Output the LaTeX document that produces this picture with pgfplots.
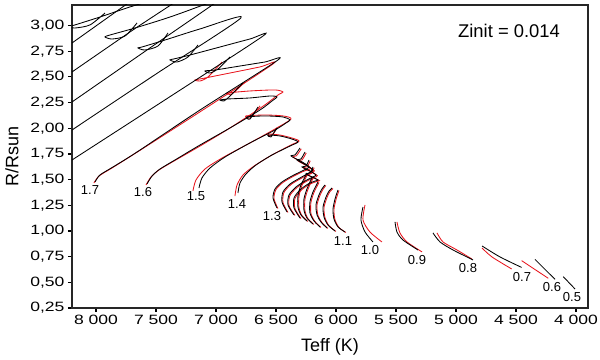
\documentclass[border=0pt]{standalone}
\usepackage{pgfplots}
\pgfplotsset{compat=1.18}
\usepackage{fontspec}
\setmainfont{Liberation Sans}
\newfontfamily\tickfont[FakeStretch=1.3]{Liberation Sans}

\definecolor{trkred}{HTML}{E8141C}
\pgfplotsset{
  blk/.style={black, line width=0.85pt, smooth, tension=0.45},
  rd/.style={trkred, line width=0.85pt, smooth, tension=0.45},
}

\begin{document}
\begin{tikzpicture}
\begin{axis}[
  scale only axis,
  width=516pt, height=303pt,
  xmin=3900, xmax=8200, ymin=0.25, ymax=3.2,
  x dir=reverse,
  axis line style={line width=1.5pt, black!85},
  xtick={4000,4500,5000,5500,6000,6500,7000,7500,8000},
  ytick={0.25,0.5,0.75,1,1.25,1.5,1.75,2,2.25,2.5,2.75,3},
  xtick pos=bottom, ytick pos=left,
  tick align=outside, major tick length=4pt,
  tick style={line width=1.2pt, black},
  /pgf/number format/assume math mode=true,
  tick label style={font=\tickfont\fontsize{13.5}{15}\selectfont},
  xticklabel style={/pgf/number format/1000 sep={\ }},
  yticklabel style={/pgf/number format/.cd, fixed, fixed zerofill, precision=2, use comma},
  xlabel={Teff (K)}, ylabel={R/Rsun},
  label style={font=\fontsize{18}{20}\selectfont},
  xlabel style={at={(axis description cs:0.5,-0.1287)}, anchor=center},
  ylabel style={at={(axis description cs:-0.1163,0.5)}, anchor=center},
]
% ---- red tracks (drawn first) ----
\addplot[rd] coordinates {(8017,1.467) (7975,1.535) (7867,1.613) (7667,1.760) (7133,2.160) (6525,2.626) (6633,2.597) (6883,2.538) (7092,2.489) (7175,2.470) (7133,2.460) (7067,2.499) (6950,2.645)};
\addplot[rd] coordinates {(7583,1.448) (7542,1.525) (7475,1.594) (7350,1.681) (7133,1.827) (6883,2.003) (6617,2.207) (6483,2.324) (6442,2.353) (6508,2.373) (6717,2.363) (6908,2.343) (6867,2.334) (6758,2.451)};
\addplot[rd] coordinates {(7192,1.390) (7167,1.496) (7092,1.603) (6950,1.710) (6717,1.857) (6508,1.993) (6375,2.090) (6442,2.120) (6592,2.129) (6750,2.120) (6717,2.100) (6633,2.217)};
\addplot[rd] coordinates {(6842,1.340) (6825,1.447) (6775,1.545) (6683,1.632) (6533,1.740) (6375,1.837) (6308,1.876) (6367,1.905) (6467,1.934) (6567,1.944) (6542,1.925) (6483,2.012)};
\addplot[rd] coordinates {(6484,1.219) (6517,1.316) (6500,1.404) (6442,1.472) (6359,1.530) (6275,1.579) (6212,1.610) (6270,1.660) (6360,1.720) (6330,1.732) (6290,1.800)};
\addplot[rd] coordinates {(6400,1.180) (6442,1.277) (6434,1.374) (6375,1.452) (6292,1.511) (6215,1.558) (6180,1.585) (6240,1.632) (6315,1.682) (6282,1.693) (6248,1.760)};
\addplot[rd] coordinates {(6342,1.151) (6392,1.248) (6384,1.345) (6325,1.423) (6250,1.481) (6182,1.520) (6155,1.538) (6207,1.576) (6273,1.615) (6240,1.625) (6215,1.683)};
\addplot[rd] coordinates {(6292,1.121) (6342,1.219) (6342,1.316) (6292,1.394) (6225,1.452) (6165,1.480) (6138,1.490) (6190,1.519) (6240,1.548) (6207,1.558) (6182,1.615)};
\addplot[rd] coordinates {(6234,1.092) (6284,1.151) (6309,1.228) (6309,1.335) (6284,1.443) (6250,1.521) (6234,1.560)};
\addplot[rd] coordinates {(6184,1.063) (6234,1.121) (6259,1.199) (6259,1.306) (6234,1.404) (6209,1.472) (6192,1.511)};
\addplot[rd] coordinates {(6125,1.034) (6175,1.092) (6209,1.170) (6209,1.277) (6184,1.374) (6159,1.433) (6142,1.472)};
\addplot[rd] coordinates {(6067,1.024) (6117,1.082) (6150,1.151) (6159,1.248) (6134,1.345) (6109,1.404) (6084,1.443)};
\addplot[rd] coordinates {(6000,0.995) (6059,1.053) (6092,1.131) (6100,1.228) (6075,1.326) (6050,1.384) (6025,1.413)};
\addplot[rd] coordinates {(5917,0.985) (5975,1.034) (6009,1.112) (6017,1.209) (6000,1.306) (5984,1.365) (5975,1.394)};
\addplot[rd] coordinates {(5617,0.893) (5717,0.990) (5775,1.107) (5758,1.253)};
\addplot[rd] coordinates {(5492,1.088) (5467,0.981) (5408,0.893) (5283,0.796)};
\addplot[rd] coordinates {(5158,0.981) (5108,0.893) (4992,0.815) (4867,0.727)};
\addplot[rd] coordinates {(4783,0.834) (4700,0.747) (4536,0.630)};
\addplot[rd] coordinates {(4453,0.711) (4231,0.539)};
% ---- black tracks ----
\addplot[blk] coordinates {(8200,2.830) (7550,3.370)};
\addplot[blk] coordinates {(8200,2.548) (7692,2.957) (7175,3.366) (7467,3.268) (7717,3.181) (7967,3.083) (8175,3.006) (8233,2.986) (8175,2.976) (8050,3.006) (7925,3.122)};
\addplot[blk] coordinates {(8200,2.256) (7575,2.762) (6950,3.268) (7083,3.210) (7383,3.083) (7675,2.976) (7883,2.908) (7925,2.889) (7867,2.869) (7758,2.898) (7658,3.025)};
\addplot[blk] coordinates {(8200,1.983) (7500,2.528) (6792,3.074) (7133,2.967) (7425,2.859) (7617,2.791) (7650,2.782) (7592,2.762) (7483,2.801) (7400,2.928)};
\addplot[blk] coordinates {(8200,1.691) (7400,2.295) (6608,2.898) (6717,2.869) (6967,2.791) (7217,2.713) (7350,2.675) (7383,2.665) (7325,2.645) (7233,2.694) (7150,2.811)};
\addplot[blk] coordinates {(8008,1.477) (7967,1.545) (7858,1.623) (7658,1.769) (7133,2.178) (6483,2.665) (6592,2.645) (6800,2.606) (7008,2.567) (7092,2.558) (7050,2.538) (6983,2.577) (6883,2.694)};
\addplot[blk] coordinates {(7575,1.457) (7533,1.535) (7467,1.603) (7342,1.691) (7133,1.837) (6883,2.003) (6633,2.178) (6533,2.266) (6492,2.305) (6550,2.314) (6717,2.295) (6900,2.285) (6967,2.275) (6933,2.266) (6883,2.314) (6775,2.441)};
\addplot[blk] coordinates {(7142,1.418) (7117,1.516) (7050,1.613) (6925,1.720) (6717,1.857) (6508,1.983) (6417,2.051) (6383,2.081) (6442,2.110) (6592,2.120) (6742,2.110) (6717,2.090) (6650,2.207)};
\addplot[blk] coordinates {(6817,1.370) (6800,1.467) (6750,1.555) (6667,1.642) (6533,1.740) (6383,1.827) (6317,1.866) (6367,1.895) (6467,1.925) (6567,1.934) (6542,1.915) (6492,2.003)};
\addplot[blk] coordinates {(6492,1.224) (6525,1.321) (6508,1.409) (6450,1.477) (6367,1.535) (6283,1.584) (6225,1.623) (6283,1.672) (6375,1.730) (6342,1.740) (6300,1.808)};
\addplot[blk] coordinates {(6408,1.185) (6450,1.282) (6442,1.379) (6383,1.457) (6300,1.516) (6225,1.565) (6192,1.594) (6250,1.642) (6325,1.691) (6292,1.701) (6258,1.769)};
\addplot[blk] coordinates {(6350,1.156) (6400,1.253) (6392,1.350) (6333,1.428) (6258,1.486) (6192,1.526) (6167,1.545) (6217,1.584) (6283,1.623) (6250,1.632) (6225,1.691)};
\addplot[blk] coordinates {(6300,1.126) (6350,1.224) (6350,1.321) (6300,1.399) (6233,1.457) (6175,1.486) (6150,1.496) (6200,1.526) (6250,1.555) (6217,1.565) (6192,1.623)};
\addplot[blk] coordinates {(6242,1.097) (6292,1.156) (6317,1.233) (6317,1.340) (6292,1.448) (6258,1.526) (6242,1.565)};
\addplot[blk] coordinates {(6192,1.068) (6242,1.126) (6267,1.204) (6267,1.311) (6242,1.409) (6217,1.477) (6200,1.516)};
\addplot[blk] coordinates {(6133,1.039) (6183,1.097) (6217,1.175) (6217,1.282) (6192,1.379) (6167,1.438) (6150,1.477)};
\addplot[blk] coordinates {(6075,1.029) (6125,1.087) (6158,1.156) (6167,1.253) (6142,1.350) (6117,1.409) (6092,1.448)};
\addplot[blk] coordinates {(6008,1.000) (6067,1.058) (6100,1.136) (6108,1.233) (6083,1.331) (6058,1.389) (6033,1.418)};
\addplot[blk] coordinates {(5925,0.990) (5983,1.039) (6017,1.117) (6025,1.214) (6008,1.311) (5992,1.370) (5983,1.399)};
\addplot[blk] coordinates {(5692,0.893) (5758,0.990) (5792,1.107) (5775,1.233)};
\addplot[blk] coordinates {(5508,1.088) (5492,0.990) (5442,0.912) (5317,0.815)};
\addplot[blk] coordinates {(5192,0.981) (5133,0.893) (5025,0.815) (4858,0.718)};
\addplot[blk] coordinates {(4783,0.854) (4633,0.747) (4453,0.645)};
\addplot[blk] coordinates {(4342,0.724) (4175,0.529)};
\addplot[blk] coordinates {(4106,0.555) (4008,0.435)};
% ---- mass labels ----
\begin{scope}[every node/.style={font=\fontsize{13}{14}\selectfont, inner sep=0pt}]
\node at (axis cs:8050,1.399) {1.7};
\node at (axis cs:7608,1.379) {1.6};
\node at (axis cs:7167,1.340) {1.5};
\node at (axis cs:6825,1.263) {1.4};
\node at (axis cs:6533,1.146) {1.3};
\node at (axis cs:5942,0.902) {1.1};
\node at (axis cs:5717,0.815) {1.0};
\node at (axis cs:5325,0.718) {0.9};
\node at (axis cs:4900,0.640) {0.8};
\node at (axis cs:4450,0.552) {0.7};
\node at (axis cs:4200,0.455) {0.6};
\node at (axis cs:4033,0.357) {0.5};
\end{scope}
\node[font=\fontsize{18.4}{20}\selectfont] at (axis cs:4558,2.947) {Zinit = 0.014};
\end{axis}
\pgfresetboundingbox
\path[use as bounding box] ([xshift=-72pt,yshift=-51pt]current axis.south west) rectangle ([xshift=12pt,yshift=5pt]current axis.north east);
\end{tikzpicture}
\end{document}
